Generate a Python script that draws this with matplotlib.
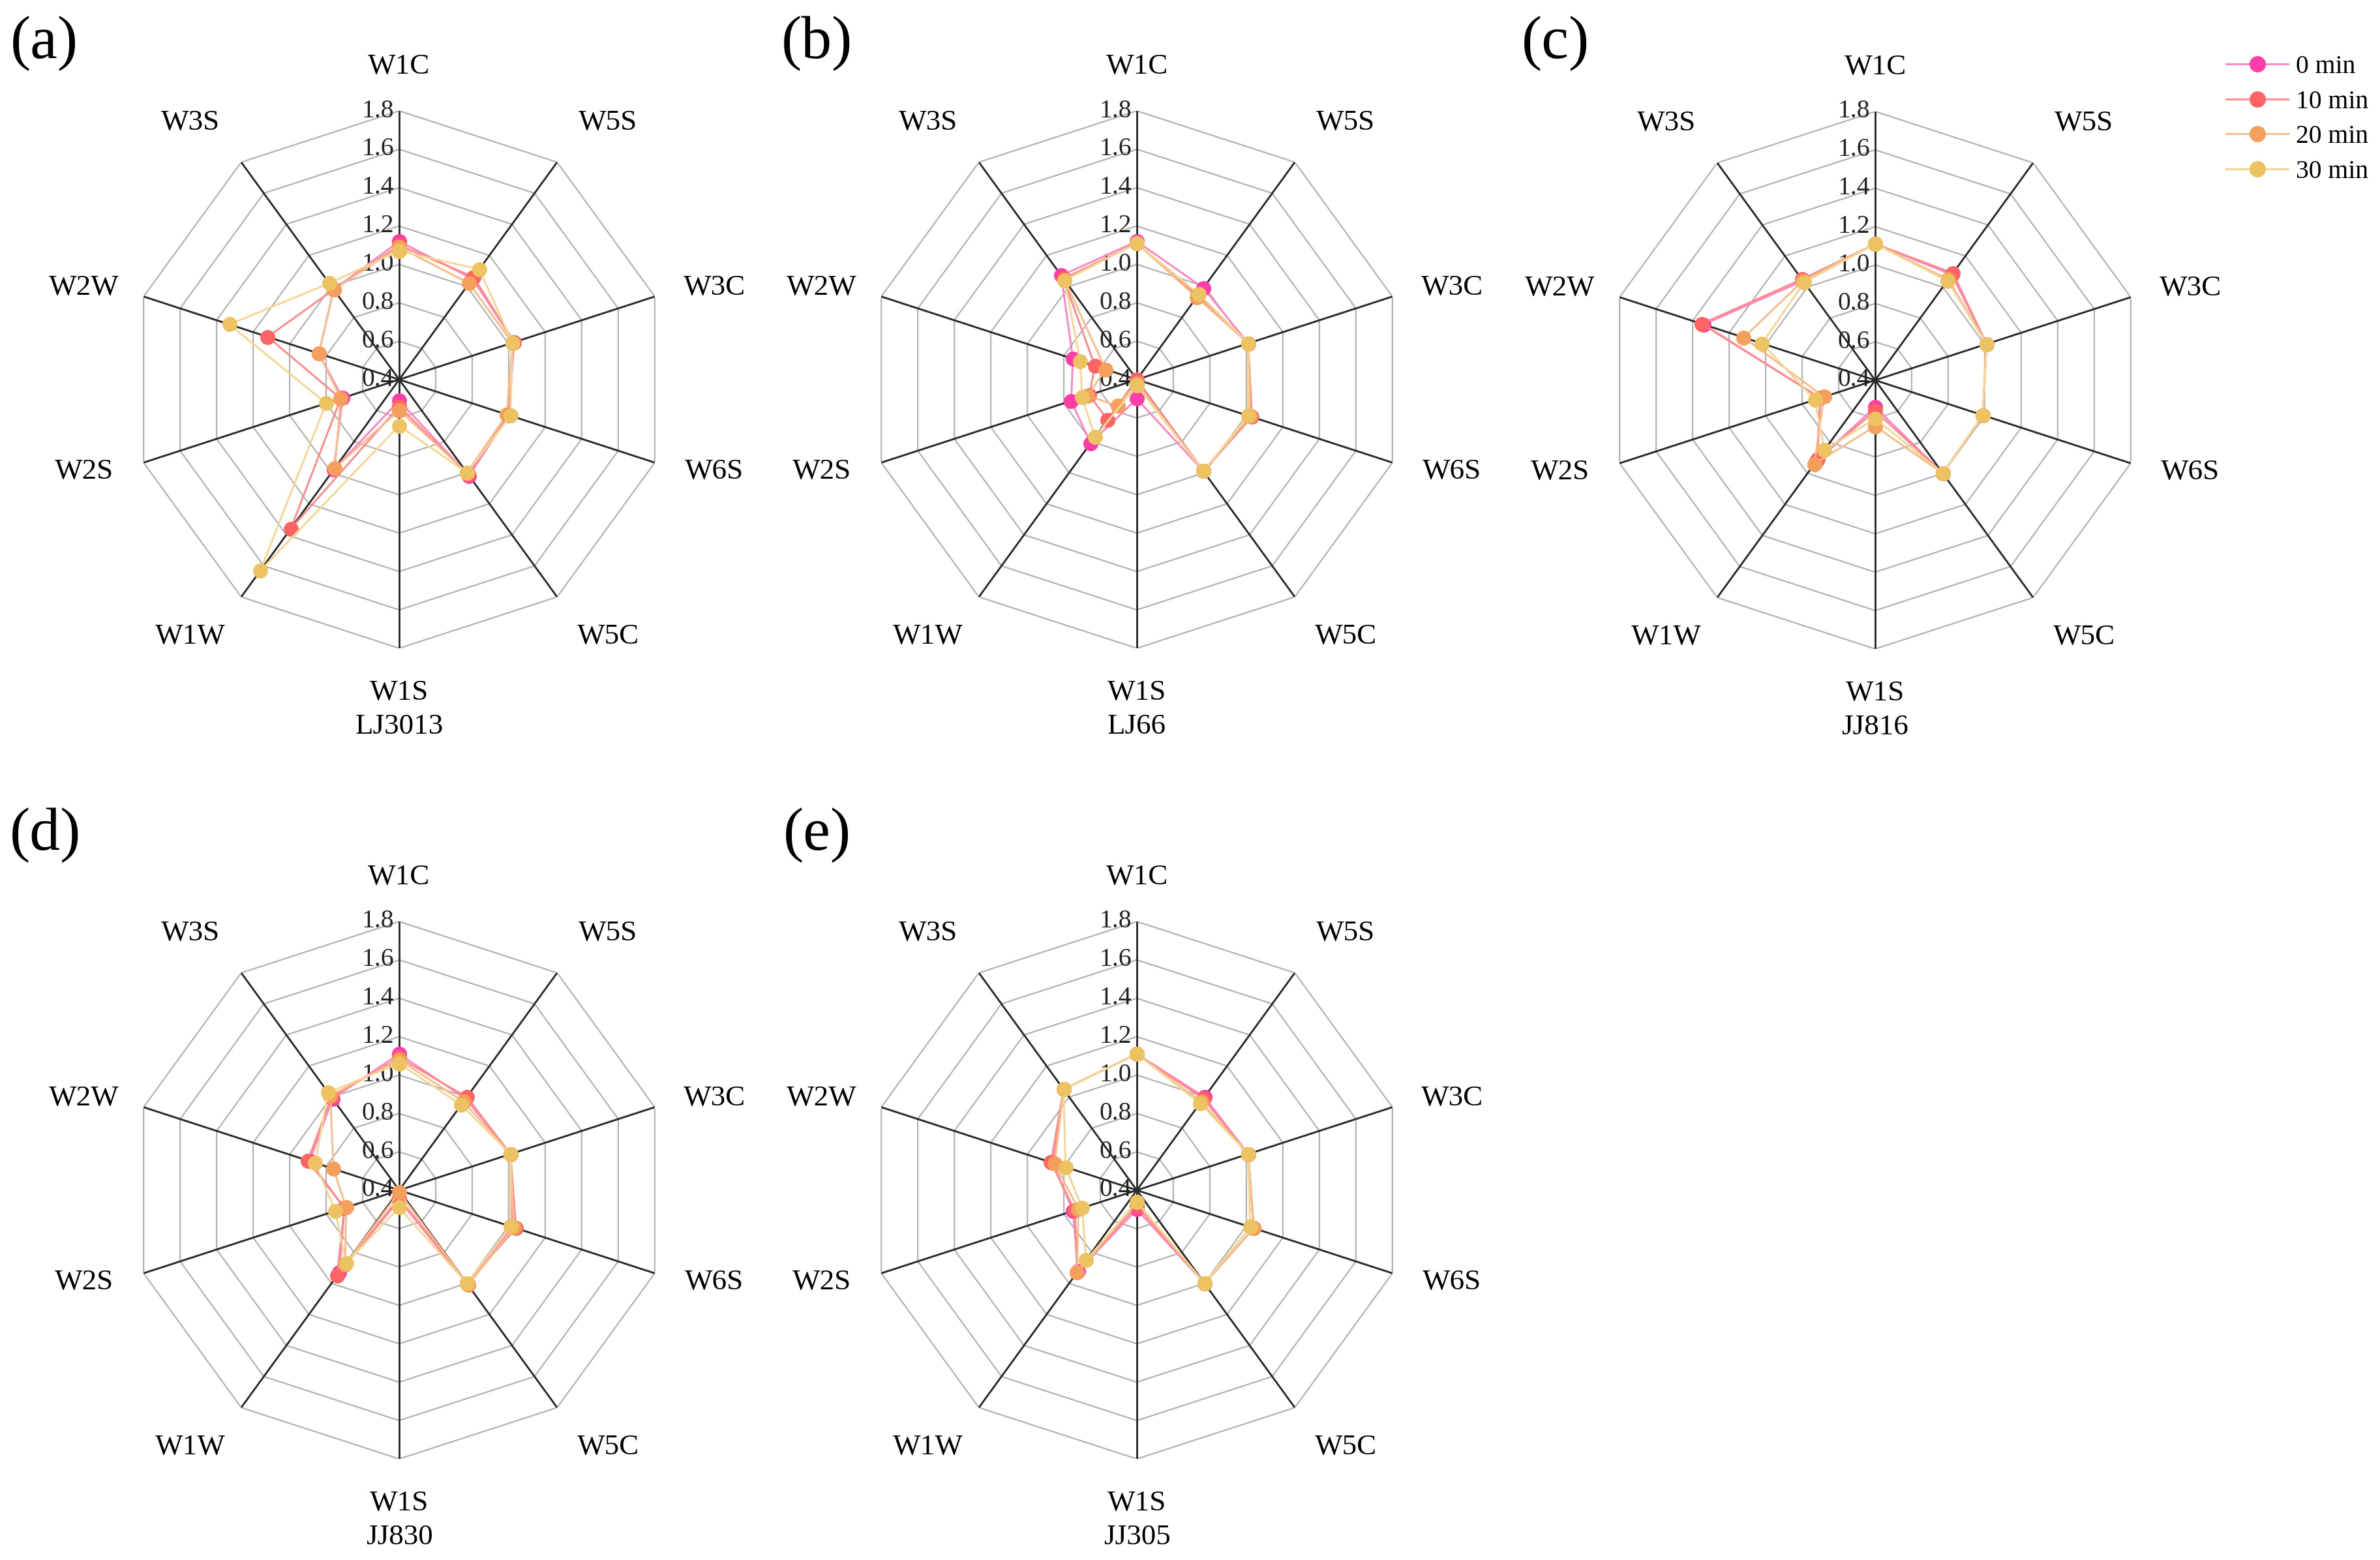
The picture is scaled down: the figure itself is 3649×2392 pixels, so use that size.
import numpy as np
import matplotlib
matplotlib.use("Agg")
import matplotlib.pyplot as plt
from matplotlib.lines import Line2D

plt.rcParams['font.family'] = ['Liberation Serif', 'DejaVu Serif']

# axes order, clockwise from the top
axes_names = ["W1C", "W5S", "W3C", "W6S", "W5C", "W1S", "W1W", "W2S", "W2W", "W3S"]
times = ["0 min", "10 min", "20 min", "30 min"]
samples = ["LJ3013", "LJ66", "JJ816", "JJ830", "JJ305"]
letters = ["(a)", "(b)", "(c)", "(d)", "(e)"]
ring_ticks = [0.4, 0.6, 0.8, 1.0, 1.2, 1.4, 1.6, 1.8]

# values per sample: one row per time, one column per axis (order of axes_names)
lj3013 = [
    [1.12, 1.05, 1.03, 1.00, 1.02, 0.51, 0.98, 0.71, 0.84, 0.98],
    [1.10, 1.06, 1.03, 0.99, 1.01, 0.54, 1.36, 0.72, 1.12, 0.98],
    [1.09, 1.02, 1.02, 0.99, 1.00, 0.56, 0.97, 0.72, 0.84, 0.98],
    [1.07, 1.11, 1.02, 1.01, 1.00, 0.64, 1.63, 0.80, 1.33, 1.02],
]
lj66 = [
    [1.12, 0.99, 1.01, 1.02, 0.99, 0.50, 0.81, 0.76, 0.75, 1.07],
    [1.11, 0.94, 1.01, 1.03, 0.99, 0.40, 0.66, 0.66, 0.63, 1.05],
    [1.11, 0.93, 1.01, 1.02, 0.99, 0.42, 0.57, 0.67, 0.57, 1.04],
    [1.11, 0.95, 1.01, 1.01, 0.99, 0.43, 0.77, 0.70, 0.71, 1.04],
]
jj816 = [
    [1.11, 1.08, 1.01, 0.99, 1.00, 0.54, 0.92, 0.70, 1.34, 1.04],
    [1.11, 1.09, 1.01, 0.99, 1.00, 0.56, 0.91, 0.70, 1.35, 1.05],
    [1.11, 1.05, 1.01, 0.99, 1.00, 0.64, 0.94, 0.68, 1.12, 1.04],
    [1.11, 1.04, 1.01, 0.99, 1.00, 0.60, 0.85, 0.73, 1.02, 1.03],
]
jj830 = [
    [1.11, 0.99, 1.01, 1.02, 1.01, 0.45, 0.93, 0.70, 0.89, 0.99],
    [1.09, 1.00, 1.01, 1.04, 1.00, 0.44, 0.95, 0.70, 0.90, 1.00],
    [1.08, 0.97, 1.01, 1.03, 1.01, 0.41, 0.88, 0.69, 0.76, 1.01],
    [1.06, 0.95, 1.01, 1.01, 1.00, 0.49, 0.87, 0.75, 0.86, 1.03],
]
jj305 = [
    [1.11, 1.00, 1.01, 1.04, 1.00, 0.50, 0.92, 0.75, 0.86, 1.05],
    [1.11, 0.99, 1.01, 1.04, 1.00, 0.48, 0.93, 0.74, 0.87, 1.05],
    [1.11, 0.97, 1.01, 1.04, 1.00, 0.46, 0.93, 0.72, 0.85, 1.05],
    [1.11, 0.96, 1.01, 1.02, 1.00, 0.46, 0.85, 0.70, 0.79, 1.05],
]
all_data = [lj3013, lj66, jj816, jj830, jj305]

marker_colors = ["#FF3DA8", "#FF6363", "#F4A05C", "#ECC360"]
line_colors = ["#FF85C2", "#FF8A8A", "#F8BC88", "#F2D794"]

W, H = 3649, 2392
DPI = 300
R_PX = 412
centers = [(612, 582), (1743, 582), (2875, 583), (612, 1825), (1743, 1825)]
letter_pos = [(68, 67), (1253, 67), (2385, 67), (70, 1281), (1253, 1281)]

# label centres relative to the chart centre, in pixels (y downwards)
label_offsets = [(0, -480), (320, -394), (483, -141), (483, 141), (320, 394),
                 (0, 480), (-320, 394), (-483, 141), (-483, -141), (-320, -394)]
sample_offset = (0, 532)

fig = plt.figure(figsize=(W / DPI, H / DPI), dpi=DPI)

n = len(axes_names)
angles = np.arange(n) * 2 * np.pi / n
ang_closed = np.append(angles, angles[0])


def px_to_axes(dx, dy):
    return 0.5 + dx / (2 * R_PX), 0.5 - dy / (2 * R_PX)


for k, data in enumerate(all_data):
    cx, cy = centers[k]
    rect = [(cx - R_PX) / W, 1 - (cy + R_PX) / H, 2 * R_PX / W, 2 * R_PX / H]
    ax = fig.add_axes(rect, projection="polar")
    ax.set_theta_zero_location("N")
    ax.set_theta_direction(-1)
    ax.set_ylim(ring_ticks[0], ring_ticks[-1])
    ax.grid(False)
    ax.spines["polar"].set_visible(False)
    ax.set_xticks([])
    ax.set_yticks([])
    ax.patch.set_alpha(0)

    # decagon rings
    for r in ring_ticks[1:]:
        ax.plot(ang_closed, [r] * (n + 1), color="#B4B4B4", lw=0.55, zorder=1)
    # spokes
    for a in angles:
        ax.plot([a, a], [ring_ticks[0], ring_ticks[-1]], color="#2A2A2A", lw=0.7, zorder=2)

    # radial tick labels along W1C
    for r in ring_ticks:
        ax.annotate(f"{r:.1f}", xy=(0, r), xytext=(-2.0, 0), textcoords="offset points",
                    ha="right", va="center", fontsize=9.5, color="#222222", zorder=3)

    # series
    for i, vals in enumerate(data):
        v = np.append(vals, vals[0])
        ax.plot(ang_closed, v, color=line_colors[i], lw=0.7, marker="o", ms=5.2,
                mfc=marker_colors[i], mec=marker_colors[i], mew=0.3, zorder=4 + i,
                clip_on=False)

    # axis labels
    for (dx, dy), name in zip(label_offsets, axes_names):
        ax.text(*px_to_axes(dx, dy), name, transform=ax.transAxes,
                ha="center", va="center", fontsize=10.8)
    ax.text(*px_to_axes(*sample_offset), samples[k], transform=ax.transAxes,
            ha="center", va="center", fontsize=10.8)

    lx, ly = letter_pos[k]
    fig.text(lx / W, 1 - ly / H, letters[k], ha="center", va="center", fontsize=22.5)

handles = [Line2D([], [], color=line_colors[i], lw=0.7, marker="o", ms=5,
                  mfc=marker_colors[i], mec=marker_colors[i]) for i in range(len(times))]
fig.legend(handles, times, loc="upper left", bbox_to_anchor=(3413 / W, 1 - 84 / H),
           frameon=False, fontsize=9.5, handlelength=2.4, handletextpad=0.3,
           labelspacing=0.42, borderpad=0, borderaxespad=0)

fig.savefig("out.png", dpi=DPI)
